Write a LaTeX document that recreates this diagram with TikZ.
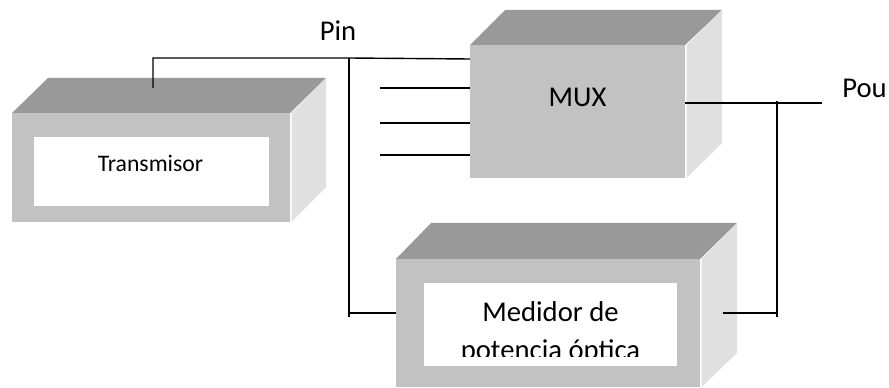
\documentclass[tikz,border=0pt]{standalone}
\usepackage{fontspec}
\setmainfont{Carlito}
\usetikzlibrary{calc}
\tikzset{
    front/.style={fill=black!24,inner sep=0pt,outer sep=0pt},
    inner/.style={fill=white,inner sep=0pt,outer sep=0pt},
    topface/.style={fill=black!40},
    sideface/.style={fill=black!12},
    edge/.style={line width=1.05pt},
    lbl/.style={inner sep=0pt,font=\fontsize{21.5}{26}\selectfont}
}
\begin{document}
\begin{tikzpicture}[x=0.75pt,y=-0.75pt]
\useasboundingbox (0,0) rectangle (889,388);

\node[front,minimum width=208.5pt,minimum height=81.75pt] (tx) at (151,167.5) {};
\node[front,minimum width=161.25pt,minimum height=99.75pt] (mux) at (577.5,111.5) {};
\node[front,minimum width=228pt,minimum height=96pt] (med) at (548,323) {};

% caras de arriba
\fill[topface] (tx.north west) -- (48,78) -- (326,78) -- (tx.north east) -- cycle;
\fill[topface] (mux.north west) -- (505,10) -- (722,10) -- (mux.north east) -- cycle;
\fill[topface] (med.north west) -- (431,223) -- (737,223) -- (med.north east) -- cycle;

% caras laterales
\fill[sideface] ($(tx.north east)+(1.5,0)$) -- (326,78) -- (326,187) -- ($(tx.south east)+(1.5,0)$) -- cycle;
\fill[sideface] ($(mux.north east)+(1.5,0)$) -- (722,10) -- (722,143) -- ($(mux.south east)+(1.5,0)$) -- cycle;
\fill[sideface] ($(med.north east)+(1.5,0)$) -- (737,223) -- (737,353) -- ($(med.south east)+(1.5,0)$) -- cycle;

\node[inner,minimum width=176.25pt,minimum height=51.75pt] (txin) at (151.5,171.5) {};
\node[inner,minimum width=189.75pt,minimum height=62.25pt] (medin) at (550.5,324.5) {};

\node[lbl,font=\fontsize{17.8}{21}\selectfont] (txt) at (150.5,163) {Transmisor};
\node[lbl] (muxt) at (577.5,97) {MUX};
\begin{scope}
% el texto queda cortado
\clip (medin.north west) rectangle (677,356.5);
\node[lbl,anchor=base] (medt) at (550.5,321) {Medidor de};
\node[lbl,anchor=base] (medu) at (550.5,359.5) {potencia óptica};
\end{scope}
\node[lbl] (pin) at (338,31) {Pin};
\node[lbl,anchor=west] (pou) at (842,88) {Pou};

\coordinate (a) at (153,88);
\coordinate (b) at (153,58);
\coordinate (c) at (349,58);
\coordinate (d) at (349,317);
\coordinate (e) at (349,313);
\coordinate (f) at (777,101);
\coordinate (g) at (777,317);
\coordinate (h) at (777,313);
\coordinate (i) at (723,313);
\coordinate (k) at (822,103);
\coordinate (l) at (685,103);
\coordinate (m) at (470,59);
\coordinate (n1) at (380,88);
\coordinate (n2) at (380,123);
\coordinate (n3) at (380,155);

\draw[edge] (a) -- (b) -- (c) -- (m);
\draw[edge] (c) -- (d);
\draw[edge] (e) -- (med.west |- e);
\draw[edge] (l) -- (k);
\draw[edge] (f) -- (g);
\draw[edge] (i) -- (h);
\draw[edge] (n1) -- (mux.west |- n1);
\draw[edge] (n2) -- (mux.west |- n2);
\draw[edge] (n3) -- (mux.west |- n3);
\end{tikzpicture}
\end{document}
